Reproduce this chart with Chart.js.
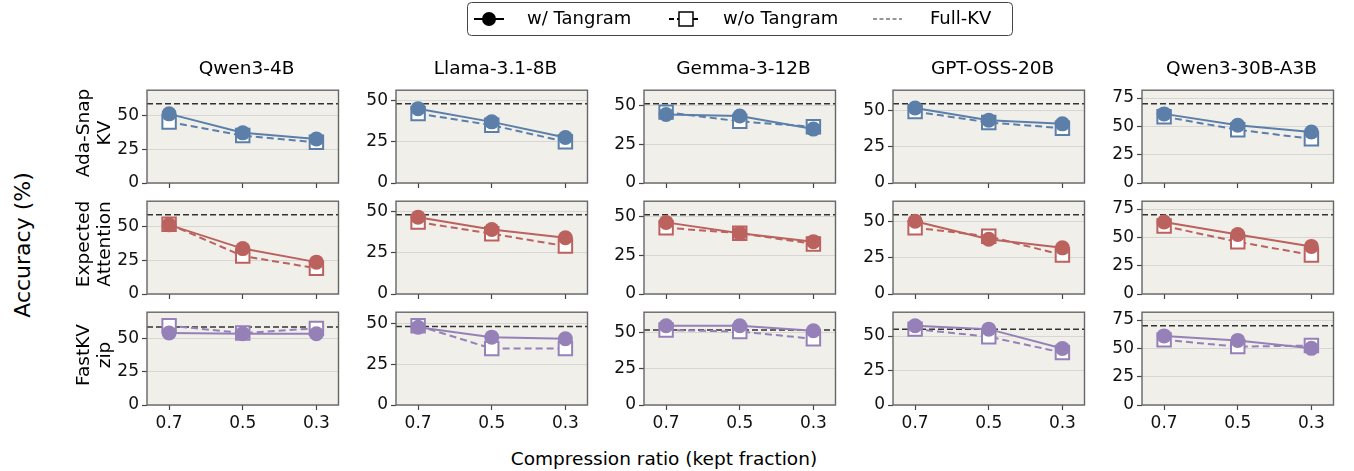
<!DOCTYPE html>
<html>
<head>
<meta charset="utf-8">
<script src="https://cdn.jsdelivr.net/npm/chart.js@4.4.0/dist/chart.umd.min.js"></script>
<style>
  body { margin: 0; background: #fff; font-family: "DejaVu Sans", sans-serif; }
  #wrap { position: relative; width: 1354px; height: 471px; overflow: hidden; }
  canvas.p { position: absolute; }
  .lbl { position: absolute; color: #000; white-space: pre; text-align: center; line-height: 21px; }
</style>
</head>
<body>
<div id="wrap"></div>
<script>
// ---- data ----
var ratios = ["0.7", "0.5", "0.3"];
var models = ["Qwen3-4B", "Llama-3.1-8B", "Gemma-3-12B", "GPT-OSS-20B", "Qwen3-30B-A3B"];
var methods = ["Ada-Snap\nKV", "Expected\nAttention", "FastKV\nzip"];
var fullKV = [58.5, 48, 51.5, 55, 70];

// one row per model: values at 0.7, 0.5, 0.3
var adaWith     = [[51, 37, 32.5], [45, 37, 27.5], [44.5, 43.5, 35], [52, 43.5, 41], [61, 51, 45]];
var adaWithout  = [[45, 35, 30], [42, 35, 25], [46, 40, 36.5], [49.5, 42, 38], [58.5, 47, 39]];
var expWith     = [[51, 33.5, 23.5], [46.5, 39, 34], [46.5, 39.5, 34], [50.5, 38, 32], [63.5, 52.5, 42]];
var expWithout  = [[51.5, 28, 19], [43.5, 36.5, 29], [43, 39.5, 32.5], [46, 40, 27], [60, 46, 34.5]];
var fastWith    = [[54, 53.5, 53.5], [47.5, 41.5, 40.5], [54.5, 54.5, 51], [57.5, 55, 41], [61, 57, 50]];
var fastWithout = [[59.5, 54, 57.5], [48.5, 34.5, 34.5], [51.5, 50.5, 45.5], [55, 49.5, 38], [57.5, 51.5, 52.5]];

var withRows = [adaWith, expWith, fastWith];
var withoutRows = [adaWithout, expWithout, fastWithout];
var rowColors = ["#5b7fa9", "#bb625f", "#9580b8"];

// ---- layout ----
var plotLeft = [147, 396, 644, 893, 1142];
var plotTop = [83, 194, 305];
var plotW = 199, plotH = 100;
var axisW = 46, padT = 6, padR = 4, axisH = 36;

var wrap = document.getElementById("wrap");

function addText(txt, x, y, size, rot) {
  var d = document.createElement("div");
  d.className = "lbl";
  d.textContent = txt;
  d.style.fontSize = size + "px";
  d.style.left = x + "px";
  d.style.top = y + "px";
  d.style.transform = "translate(-50%,-50%)" + (rot ? " rotate(-90deg)" : "");
  wrap.appendChild(d);
}

var panelBg = {
  id: "panelBg",
  beforeDraw: function (chart) {
    var a = chart.chartArea, ctx = chart.ctx;
    ctx.save();
    ctx.fillStyle = "#f0efea";
    ctx.fillRect(a.left, a.top, a.right - a.left, a.bottom - a.top);
    ctx.restore();
  },
  afterDraw: function (chart) {
    var a = chart.chartArea, ctx = chart.ctx;
    ctx.save();
    ctx.strokeStyle = "#666";
    ctx.lineWidth = 1.4;
    ctx.strokeRect(a.left, a.top, a.right - a.left, a.bottom - a.top);
    ctx.restore();
  }
};

function pts(arr) {
  return arr.map(function (v, i) { return { x: i, y: v }; });
}

for (var r = 0; r < 3; r++) {
  for (var c = 0; c < 5; c++) {
    var cv = document.createElement("canvas");
    cv.className = "p";
    var w = axisW + plotW + padR, h = padT + plotH + axisH;
    cv.width = w; cv.height = h;
    cv.style.width = w + "px"; cv.style.height = h + "px";
    cv.style.left = (plotLeft[c] - axisW) + "px";
    cv.style.top = (plotTop[r] - padT) + "px";
    wrap.appendChild(cv);

    var col = rowColors[r];
    var wv = withRows[r][c], wov = withoutRows[r][c];
    var yMax = 1.17 * Math.max(fullKV[c], Math.max.apply(null, wv), Math.max.apply(null, wov));
    var showX = (r === 2);

    new Chart(cv.getContext("2d"), {
      type: "line",
      data: {
        datasets: [
          {
            label: "w/ Tangram",
            data: pts(wv),
            borderColor: col,
            backgroundColor: col,
            borderWidth: 2,
            pointStyle: "circle",
            pointRadius: 7.5,
            pointBorderWidth: 0,
            pointBackgroundColor: col,
            order: 0
          },
          {
            label: "w/o Tangram",
            data: pts(wov),
            borderColor: col,
            borderWidth: 2,
            borderDash: [7, 4],
            pointStyle: "rect",
            pointRadius: 9.5,
            pointBorderWidth: 2,
            pointBorderColor: col,
            pointBackgroundColor: "#fff",
            order: 1
          },
          {
            label: "Full-KV",
            data: [{ x: -0.3, y: fullKV[c] }, { x: 2.3, y: fullKV[c] }],
            borderColor: "#333",
            borderWidth: 1.5,
            borderDash: [6, 3],
            pointRadius: 0,
            order: 2
          }
        ]
      },
      options: {
        responsive: false,
        animation: false,
        layout: { padding: { top: padT, right: padR, left: 0, bottom: 0 } },
        plugins: { legend: { display: false }, tooltip: { enabled: false } },
        scales: {
          x: {
            type: "linear",
            min: -0.3,
            max: 2.3,
            afterBuildTicks: function (s) { s.ticks = [0, 1, 2].map(function (v) { return { value: v }; }); },
            afterFit: function (s) { s.height = axisH; },
            border: { display: false },
            grid: { drawOnChartArea: false, tickLength: 5, tickColor: "#444", tickWidth: 1.2 },
            ticks: {
              color: "#111",
              font: { family: "DejaVu Sans", size: 17 },
              padding: 3,
              maxRotation: 0,
              callback: (function (sx) { return function (v) { return sx ? ratios[v] : ""; }; })(showX)
            }
          },
          y: {
            min: 0,
            max: yMax,
            afterBuildTicks: function (s) {
              s.ticks = [0, 25, 50, 75].filter(function (v) { return v <= s.max; }).map(function (v) { return { value: v }; });
            },
            afterFit: function (s) { s.width = axisW; },
            border: { display: false },
            grid: {
              color: "rgba(0,0,0,0.13)",
              lineWidth: 0.8,
              borderDash: [1.5, 2],
              tickLength: 5,
              tickColor: "#444",
              tickWidth: 1.2,
              tickBorderDash: []
            },
            ticks: {
              color: "#111",
              font: { family: "DejaVu Sans", size: 17 },
              padding: 3
            }
          }
        }
      },
      plugins: [panelBg]
    });
  }
}

// titles, row labels, axis labels
for (var c2 = 0; c2 < 5; c2++) addText(models[c2], plotLeft[c2] + plotW / 2, 67, 18.5, false);
for (var r2 = 0; r2 < 3; r2++) addText(methods[r2], 93, plotTop[r2] + plotH / 2, 18.5, true);
addText("Accuracy (%)", 22, 245, 22, true);
addText("Compression ratio (kept fraction)", 664, 458, 18.5, false);

// legend
var lg = document.createElement("canvas");
lg.className = "p";
lg.width = 560; lg.height = 40;
lg.style.left = "460px"; lg.style.top = "0px";
wrap.appendChild(lg);
var g = lg.getContext("2d");
g.strokeStyle = "#444"; g.lineWidth = 1;
g.beginPath();
if (g.roundRect) g.roundRect(7.5, 2.5, 545, 33, 4); else g.rect(7.5, 2.5, 545, 33);
g.stroke();
g.strokeStyle = "#000"; g.fillStyle = "#000"; g.lineWidth = 2;
g.beginPath(); g.moveTo(14, 19); g.lineTo(44, 19); g.stroke();
g.beginPath(); g.arc(29, 19, 7, 0, Math.PI * 2); g.fill();
g.setLineDash([5, 3]);
g.beginPath(); g.moveTo(209, 19); g.lineTo(240, 19); g.stroke();
g.setLineDash([]);
g.fillStyle = "#fff"; g.fillRect(219, 12, 14, 14);
g.lineWidth = 1.5; g.strokeRect(219, 12, 14, 14);
g.lineWidth = 1.2; g.setLineDash([4, 2.5]); g.strokeStyle = "#333";
g.beginPath(); g.moveTo(413, 19); g.lineTo(442, 19); g.stroke();
g.setLineDash([]);
g.fillStyle = "#000";
g.font = "18px 'DejaVu Sans'";
g.textBaseline = "middle";
g.fillText("w/ Tangram", 67, 19);
g.fillText("w/o Tangram", 263, 19);
g.fillText("Full-KV", 470, 19);
</script>
</body>
</html>
